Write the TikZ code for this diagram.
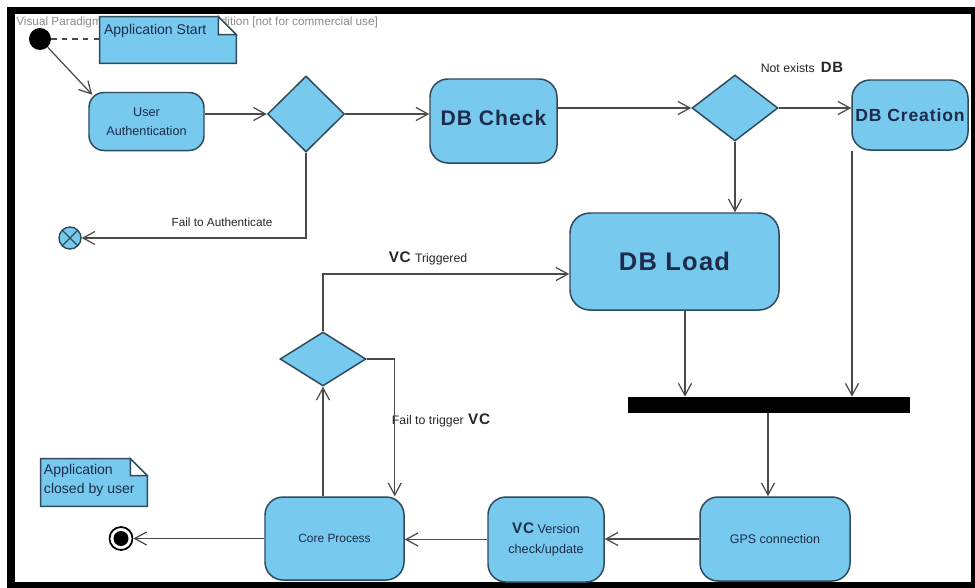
\documentclass[tikz,border=0pt]{standalone}
\usepackage{fontspec}
\setmainfont{Liberation Sans}
\newfontfamily\dbfont[LetterSpace=5]{Liberation Sans}
\usetikzlibrary{arrows.meta,shapes.geometric,calc}
\definecolor{boxfill}{HTML}{78C9EE}
\definecolor{boxline}{HTML}{2E4B5C}
\definecolor{boxtext}{HTML}{1C2C4A}
\definecolor{flowline}{HTML}{4A4A4A}
\definecolor{wmgray}{HTML}{8C8C8C}
\newcommand\boldvc{\dbfont\bfseries\fontsize{8.7}{10}\selectfont}
\begin{document}
\begin{tikzpicture}[x=0.2mm,y=-0.2mm,
  act/.style={draw=boxline, fill=boxfill, line width=0.85pt, rounded corners=#1, text=boxtext, align=center, inner sep=0pt},
  dec/.style={diamond, draw=boxline, fill=boxfill, line width=0.85pt, inner sep=0pt},
  flow/.style={draw=flowline, line width=0.7pt, -{Straight Barb[length=2.4mm,width=2.6mm,line width=0.7pt]}},
  lbl/.style={font=\fontsize{7}{8}\selectfont, text=black!85, inner sep=0pt},
  noteshape/.style={fill=boxfill, draw=boxline, line width=0.8pt},
  notetext/.style={font=\fontsize{8}{11}\selectfont, text=boxtext, inner sep=0pt, align=left, anchor=north west}
]
\useasboundingbox (0,0) rectangle (975,588);
\fill[white] (0,0) rectangle (975,588);
% frame
\fill[black] (7,7) rectangle (15,588);
\fill[black] (7,7) rectangle (975,14);
\fill[black] (971,7) rectangle (975,588);
\fill[black] (7,582) rectangle (975,588);

% watermark
\node[anchor=west, text=wmgray, font=\fontsize{6.7}{8}\selectfont, inner sep=0pt] (wm) at (16,22) {Visual Paradigm for UML Community Edition [not for commercial use]};

% notes
\node[minimum width=27.2mm, minimum height=9.2mm, inner sep=0pt] (startnote) at (168,40) {};
\draw[noteshape] (startnote.north west) -- ([xshift=-3.6mm]startnote.north east) -- ([yshift=-3.6mm]startnote.north east) -- (startnote.south east) -- (startnote.south west) -- cycle;
\draw[fill=white, draw=boxline, line width=0.8pt] ([xshift=-3.6mm]startnote.north east) -- ([xshift=-3.6mm,yshift=-3.6mm]startnote.north east) -- ([yshift=-3.6mm]startnote.north east) -- cycle;
\node[notetext] (starttext) at ([xshift=0.8mm,yshift=-1.4mm]startnote.north west) {Application Start};

\node[minimum width=21.2mm, minimum height=9.4mm, inner sep=0pt] (closenote) at (94,482.5) {};
\draw[noteshape] (closenote.north west) -- ([xshift=-3.4mm]closenote.north east) -- ([yshift=-3.4mm]closenote.north east) -- (closenote.south east) -- (closenote.south west) -- cycle;
\draw[fill=white, draw=boxline, line width=0.8pt] ([xshift=-3.4mm]closenote.north east) -- ([xshift=-3.4mm,yshift=-3.4mm]closenote.north east) -- ([yshift=-3.4mm]closenote.north east) -- cycle;
\node[notetext] (closetext) at ([xshift=0.6mm,yshift=-1.0mm]closenote.north west) {Application\\closed by user};

% nodes
\node[circle, fill=black, minimum size=4.4mm, inner sep=0pt] (init) at (40,39) {};
\node[act=3mm, minimum width=23mm, minimum height=11.6mm, font=\fontsize{7.2}{10.5}\selectfont] (ua) at (146.5,121.5) {User\\Authentication};
\node[dec, minimum width=15.4mm, minimum height=15.2mm] (d1) at (306,114) {};
\node[act=3.6mm, minimum width=25.4mm, minimum height=16.8mm, text depth=1.2mm, font={\dbfont\bfseries\fontsize{12}{14}\selectfont}] (dbcheck) at (493.5,121) {DB Check};
\node[dec, minimum width=17.2mm, minimum height=13.2mm] (d2) at (735,108) {};
\node[act=3.6mm, minimum width=23.2mm, minimum height=14mm, font={\dbfont\bfseries\fontsize{10}{12}\selectfont}] (dbcreate) at (910,115) {DB Creation};
\node[act=4mm, minimum width=41.8mm, minimum height=19.4mm, font={\dbfont\bfseries\fontsize{14.5}{16}\selectfont}] (dbload) at (674.5,261.5) {DB Load};
\node[fill=black, minimum width=56.4mm, minimum height=3.2mm, inner sep=0pt] (bar) at (769,405) {};
\node[act=3.6mm, minimum width=30mm, minimum height=16.8mm, font=\fontsize{7.1}{9}\selectfont] (gps) at (775,539) {GPS connection};
\node[act=3.6mm, minimum width=23.2mm, minimum height=17mm, font=\fontsize{7.2}{11.5}\selectfont] (vc) at (546,539.5) {{\boldvc VC} Version\\check/update};
\node[act=3.6mm, minimum width=27.8mm, minimum height=16.6mm, font=\fontsize{6.8}{9}\selectfont] (core) at (334.5,538.5) {Core Process};
\node[dec, minimum width=17.2mm, minimum height=10.8mm] (d3) at (323,359) {};
\node[circle, draw=boxline, fill=boxfill, minimum size=4.4mm, inner sep=0pt, line width=0.8pt,
  path picture={\draw[boxline, line width=0.8pt] (path picture bounding box.north west) -- (path picture bounding box.south east) (path picture bounding box.south west) -- (path picture bounding box.north east);}] (ffinal) at (70,238) {};
\node[circle, draw=black, fill=white, line width=1pt, minimum size=4.6mm, inner sep=0pt,
  path picture={\fill[black] (path picture bounding box.center) circle (1.5mm);}] (afinal) at (121,538.5) {};

% labels
\node[lbl, font=\fontsize{6.7}{8}\selectfont] (lfail) at (222,222) {Fail to Authenticate};
\node[lbl] (lnot) at (802,67) {Not exists\hspace{0.5em}{\dbfont\bfseries\fontsize{8.5}{10}\selectfont DB}};
\node[lbl] (ltrig) at (428,258) {{\boldvc VC}\hspace{0.35em}Triggered};
\node[lbl] (lfailvc) at (441,420) {Fail to trigger\hspace{0.35em}{\boldvc VC}};

% connectors
\coordinate (xload) at (685,0);
\coordinate (xcre) at (852,0);
\coordinate (xgps) at (768,0);
\draw[dashed, draw=flowline, line width=0.8pt] (init.east) -- (startnote.west |- init.east);
\draw[flow] (init) -- ([shift={(4,3)}]ua.north west);
\draw[flow] (ua.east |- d1.west) -- (d1.west);
\draw[flow] (d1.east) -- (dbcheck.west |- d1.east);
\draw[flow] (dbcheck.east |- d2.west) -- (d2.west);
\draw[flow] (d2.east) -- (dbcreate.west |- d2.east);
\draw[flow] (d2.south) -- (dbload.north -| d2.south);
\draw[flow] (d1.south) |- (ffinal.east);
\draw[flow] (dbload.south -| xload) -- (bar.north -| xload);
\draw[flow] (dbcreate.south -| xcre) -- (bar.north -| xcre);
\draw[flow] (bar.south -| xgps) -- (gps.north -| xgps);
\draw[flow] (gps.west) -- (vc.east |- gps.west);
\draw[flow] (vc.west) -- (core.east |- vc.west);
\draw[flow] (core.west) -- (afinal.east);
\draw[flow] (core.north -| d3.south) -- (d3.south);
\draw[flow] (d3.north) |- ([yshift=-2.5mm]dbload.west);
\draw[flow] (d3.east) -| ([xshift=-2mm]core.north east);
\end{tikzpicture}
\end{document}
